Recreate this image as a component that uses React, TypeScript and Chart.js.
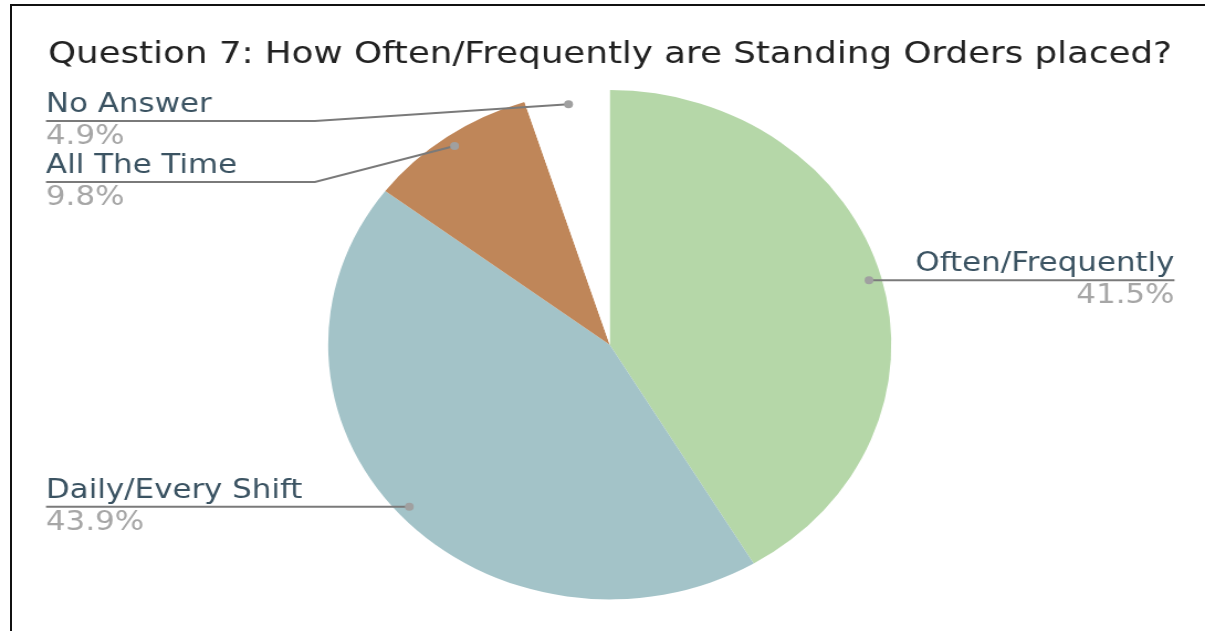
import { useEffect, useRef } from "react";
import { Chart, ArcElement, PieController } from "chart.js";
import type { Plugin } from "chart.js";

Chart.register(ArcElement, PieController);

// Survey answers, clockwise from 12 o'clock
const categories = ["Often/Frequently", "Daily/Every Shift", "All The Time", "No Answer"];
const shares = [41.5, 43.9, 9.8, 4.9];
const sliceColors = ["#b5d7a8", "#a3c3c8", "#bf8659", "#ffffff"];
const chartTitle = "Question 7: How Often/Frequently are Standing Orders placed?";

// The drawing is rendered on a narrower canvas and widened by CSS
const PAGE_W = 1205;
const PAGE_H = 631;
const STRETCH = 1.106;
const BUF_W = Math.round(PAGE_W / STRETCH);

const FONT = "'DejaVu Sans', Verdana, sans-serif";
const TEXT_WIDEN = 1.075;
const LABEL_GAP = 61;
const LABEL_MIN_Y = 121;
const TEXT_LEFT = 46 / STRETCH;
const TEXT_RIGHT = 1175 / STRETCH;

function wideText(ctx: CanvasRenderingContext2D, text: string, x: number, y: number) {
  ctx.save();
  ctx.translate(x, y);
  ctx.scale(TEXT_WIDEN, 1);
  ctx.fillText(text, 0, 0);
  ctx.restore();
}

const outerLabels: Plugin<"pie"> = {
  id: "outerLabels",
  afterDatasetsDraw(chart) {
    const ctx = chart.ctx;
    const meta = chart.getDatasetMeta(0);
    type Item = { i: number; px: number; py: number; cx: number; r: number; right: boolean; lineY: number };
    const items: Item[] = [];
    meta.data.forEach((el, i) => {
      const p = (el as any).getProps(["x", "y", "startAngle", "endAngle", "outerRadius"], true);
      const mid = (p.startAngle + p.endAngle) / 2;
      const dx = Math.cos(mid);
      const dy = Math.sin(mid);
      items.push({
        i,
        px: p.x + dx * p.outerRadius * 0.955,
        py: p.y + dy * p.outerRadius * 0.955,
        cx: p.x,
        r: p.outerRadius,
        right: dx >= 0,
        lineY: 0,
      });
    });

    for (const side of [true, false]) {
      const group = items.filter((d) => d.right === side).sort((a, b) => a.py - b.py);
      let prev = -Infinity;
      for (const d of group) {
        d.lineY = Math.max(d.py, prev + LABEL_GAP, LABEL_MIN_Y);
        prev = d.lineY;
      }
    }

    ctx.save();
    // title
    ctx.font = `30px ${FONT}`;
    ctx.fillStyle = "#222222";
    ctx.textAlign = "left";
    ctx.textBaseline = "alphabetic";
    wideText(ctx, chartTitle, 48 / STRETCH, 63);

    for (const d of items) {
      const elbowX = d.right ? d.cx + d.r * 1.047 : d.cx - d.r * 1.047;
      const endX = d.right ? TEXT_RIGHT : TEXT_LEFT;
      ctx.strokeStyle = "#7a7a7a";
      ctx.lineWidth = 2;
      ctx.beginPath();
      ctx.moveTo(d.px, d.py);
      if (Math.abs(d.lineY - d.py) > 0.5) ctx.lineTo(elbowX, d.lineY);
      ctx.lineTo(endX, d.lineY);
      ctx.stroke();

      ctx.fillStyle = "#a0a0a0";
      ctx.beginPath();
      ctx.arc(d.px, d.py, 4, 0, Math.PI * 2);
      ctx.fill();

      ctx.textAlign = d.right ? "right" : "left";
      ctx.font = `26px ${FONT}`;
      ctx.fillStyle = "#3b5362";
      wideText(ctx, categories[d.i], endX, d.lineY - 9);
      ctx.fillStyle = "#a6a6a6";
      wideText(ctx, `${shares[d.i].toFixed(1)}%`, endX, d.lineY + 23);
    }
    ctx.restore();
  },
};

export default function App() {
  const canvasRef = useRef<HTMLCanvasElement | null>(null);

  useEffect(() => {
    const canvas = canvasRef.current;
    if (!canvas) return;
    const cx = 610 / STRETCH;
    const radius = 254.7;
    const chart = new Chart(canvas, {
      type: "pie",
      data: {
        labels: categories,
        datasets: [
          {
            data: shares,
            backgroundColor: sliceColors,
            borderWidth: 0,
          },
        ],
      },
      options: {
        responsive: false,
        animation: false,
        devicePixelRatio: 1,
        layout: {
          padding: {
            left: cx - radius,
            right: BUF_W - (cx + radius),
            top: 90,
            bottom: PAGE_H - (90 + radius * 2),
          },
        },
        plugins: {
          legend: { display: false },
          tooltip: { enabled: false },
        },
      },
      plugins: [outerLabels],
    });
    return () => chart.destroy();
  }, []);

  return (
    <div
      style={{
        position: "absolute",
        left: 0,
        top: 0,
        width: PAGE_W,
        height: PAGE_H,
        background: "#ffffff",
        overflow: "hidden",
      }}
    >
      <canvas
        ref={canvasRef}
        width={BUF_W}
        height={PAGE_H}
        style={{ width: `${PAGE_W}px`, height: `${PAGE_H}px`, display: "block" }}
      />
      <div
        style={{
          position: "absolute",
          left: 10,
          top: 4,
          width: PAGE_W,
          height: PAGE_H,
          borderLeft: "2px solid #111",
          borderTop: "2px solid #111",
          pointerEvents: "none",
        }}
      />
    </div>
  );
}
